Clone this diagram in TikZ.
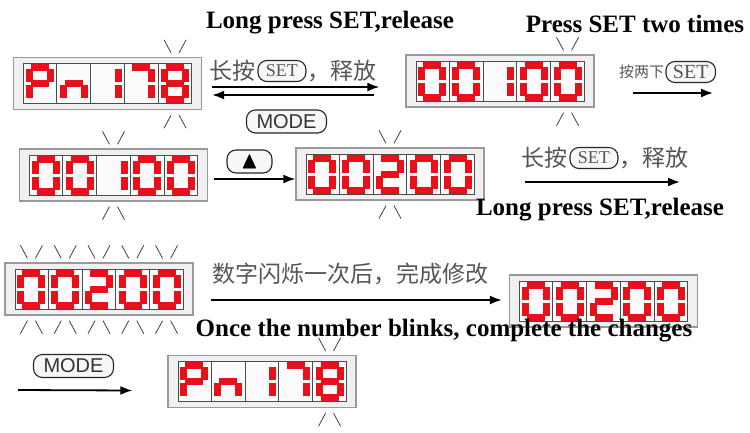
\documentclass[tikz,border=0pt]{standalone}
\usepackage{fontspec}
\usepackage{amssymb}
\setmainfont{Liberation Serif}
\setsansfont{Liberation Sans}
\newfontfamily\cjk{Noto Sans CJK SC}
\usetikzlibrary{arrows.meta,positioning,calc}

\definecolor{ledred}{HTML}{E8101A}
\definecolor{cntext}{HTML}{555555}

\tikzset{
	panel/.style={draw=gray!80, fill=gray!12, line width=1.3pt, minimum width=188pt, minimum height=52pt, inner sep=0pt},
	panelin/.style={draw=gray!60!black, fill=gray!3, line width=0.9pt, minimum width=168pt, minimum height=40pt, inner sep=0pt},
	cellsep/.style={draw=gray!60!black, line width=0.9pt},
	ledseg/.style={ledred, line width=7pt, shorten <=1.5pt, shorten >=1.5pt},
	seg a/.style={insert path={(-10.5,-16) -- (10.5,-16)}},
	seg b/.style={insert path={(10.5,-16) -- (10.5,0)}},
	seg c/.style={insert path={(10.5,0) -- (10.5,16)}},
	seg d/.style={insert path={(-10.5,16) -- (10.5,16)}},
	seg e/.style={insert path={(-10.5,0) -- (-10.5,16)}},
	seg f/.style={insert path={(-10.5,-16) -- (-10.5,0)}},
	seg g/.style={insert path={(-10.5,0) -- (10.5,0)}},
	blink/.style={line width=0.8pt, black!75},
	flow/.style={-{Latex[length=12pt,width=9pt]}, line width=1.8pt},
	btn/.style={draw=black!85, rounded corners=9pt, line width=1.1pt, fill=gray!6, minimum height=21pt, inner ysep=0pt},
	setbtn/.style={btn, inner xsep=8pt, text=cntext, font=\fontsize{18}{19}\selectfont},
	modebtn/.style={btn, inner xsep=10pt, minimum height=23pt, text=black!80, font=\sffamily\fontsize{20}{22}\selectfont},
	cn/.style={font=\cjk\fontsize{23}{26}\selectfont, text=cntext, inner sep=0pt},
	en/.style={font=\fontsize{25}{30}\selectfont\bfseries, inner sep=0pt},
}

\newcommand{\defdigit}[2]{\expandafter\def\csname ledseg#1\endcsname{#2}}
\defdigit{0}{a,b,c,d,e,f}
\defdigit{1}{b,c}
\defdigit{2}{a,b,g,e,d}
\defdigit{7}{a,b,c}
\defdigit{8}{a,b,c,d,e,f,g}
\defdigit{P}{a,b,e,f,g}
\defdigit{n}{c,e,g}

\newcommand{\ledpanel}[3]{%
	\node[panel] (#1) at (#2) {};
	\node[panelin] (#1-in) at (#2) {};
	\foreach \k in {1,...,4}
		\draw[cellsep] ($(#1-in.north west)!\k/5!(#1-in.north east)$) -- ($(#1-in.south west)!\k/5!(#1-in.south east)$);
	\foreach \ch [count=\k] in {#3} {
		\edef\seglist{\csname ledseg\ch\endcsname}
		\begin{scope}[shift={($(#1-in.west)!{(\k-0.5)/5}!(#1-in.east)$)}]
			\foreach \s in \seglist \draw[ledseg, seg \s];
		\end{scope}
	}%
}

\newcommand{\blinkcell}[2]{%
	\draw[blink] let \p1=($(#1-in.west)!{(#2-0.5)/5}!(#1-in.east)$), \p2=(#1.north), \p3=(#1.south) in
		(\x1-11pt,\y2+17pt) -- (\x1-4pt,\y2+4pt) (\x1+4pt,\y2+4pt) -- (\x1+11pt,\y2+17pt)
		(\x1-11pt,\y3-18pt) -- (\x1-4pt,\y3-5pt) (\x1+4pt,\y3-5pt) -- (\x1+11pt,\y3-18pt);%
}

\begin{document}
\begin{tikzpicture}[x=1pt, y=-1pt]
	\useasboundingbox (0,0) rectangle (750,432);

	\ledpanel{pn1}{107.5,83.5}{P,n,1,7,8}
	\ledpanel{val1}{500,81}{0,0,1,0,0}
	\ledpanel{val2}{113.5,175}{0,0,1,0,0}
	\ledpanel{val3}{390,174}{0,0,2,0,0}
	\ledpanel{val4}{99,289}{0,0,2,0,0}
	\ledpanel{val5}{603.5,301}{0,0,2,0,0}
	\ledpanel{pn2}{262,381.5}{P,n,1,7,8}

	\blinkcell{pn1}{5}
	\blinkcell{val1}{5}
	\blinkcell{val2}{3}
	\blinkcell{val3}{3}
	\foreach \k in {1,...,5} {\blinkcell{val4}{\k}}
	\blinkcell{pn2}{5}

	\node[en] (long1) at (330,23) {Long press SET,release};
	\node[en] (twice) at (635,24) {Press SET two times};
	\node[en] (long2) at (600,210) {Long press SET,release};
	\node[en] (done) at (444,331) {Once the number blinks, complete the changes};

	\node[cn, anchor=west] (hold1) at (209,71) {长按};
	\node[setbtn, right=2pt of hold1] (set1) {SET};
	\node[cn, right=1pt of set1] (rel1) {，释放};
	\node[modebtn] (mode1) at (286.5,121.5) {MODE};

	\node[cn, anchor=west, font=\cjk\fontsize{15}{17}\selectfont] (press2) at (619,72) {按两下};
	\node[setbtn, right=1pt of press2, font=\fontsize{20}{21}\selectfont, inner xsep=7pt] (set3) {SET};
	\coordinate (twice-end) at (713,93);

	\node[btn, minimum width=45pt, minimum height=23pt, font=\fontsize{24}{24}\selectfont] (up) at (249.5,161.5) {$\blacktriangle$};

	\node[cn, anchor=west] (hold2) at (521,158) {长按};
	\node[setbtn, right=2pt of hold2] (set2) {SET};
	\node[cn, right=1pt of set2] (rel2) {，释放};
	\coordinate (long2-end) at (680,182);

	\node[cn, anchor=west] (blinkcn) at (212,274) {数字闪烁一次后，完成修改};

	\node[modebtn] (mode2) at (73.5,366) {MODE};
	\coordinate (mode2-start) at (18,390);

	\draw[flow] ([shift={(10,3.5)}]pn1.east) -- ([shift={(-26,6)}]val1.west);
	\draw[flow] ([shift={(-31,14)}]val1.west) -- ([shift={(10,11.5)}]pn1.east);
	\draw[flow] ([shift={(38,12)}]val1.east) -- (twice-end);
	\draw[flow] ([shift={(6,4)}]val2.east) -- ([shift={(0,5)}]val3.west);
	\draw[flow] ([shift={(40,8)}]val3.east) -- (long2-end);
	\draw[flow] ([shift={(17,11)}]val4.east) -- ([shift={(-7,-1)}]val5.west);
	\draw[flow] (mode2-start) -- ([shift={(-35,9)}]pn2.west);
\end{tikzpicture}
\end{document}
